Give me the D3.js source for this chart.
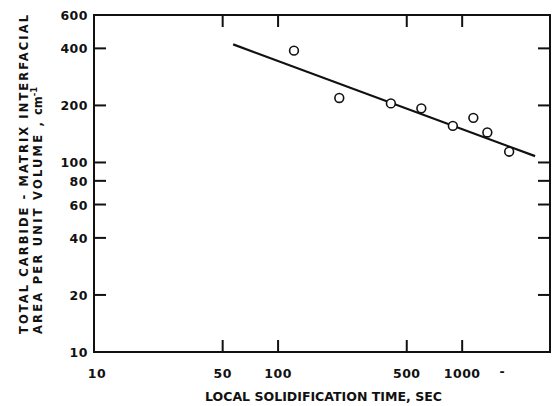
<!DOCTYPE html>
<html>
<head>
<meta charset="utf-8">
<script src="https://cdn.jsdelivr.net/npm/d3@7"></script>
<style>
  body { margin: 0; background: #fff; }
  svg text { font-family: "DejaVu Sans", "Liberation Sans", sans-serif; font-weight: bold; fill: #111; }
</style>
</head>
<body>
<div id="chart"></div>
<script>
// solidification time (sec) vs carbide-matrix interfacial area (cm^-1)
const times = [122, 215, 410, 600, 890, 1150, 1370, 1800];
const areas = [389, 219, 205, 193, 156, 172, 144, 114];

// fitted line ends
const fitTimes = [57, 2490];
const fitAreas = [420, 108];

const xTicks = [10, 50, 100, 500, 1000];
const xExtraLabel = { value: 1650, text: "-" };
const yTicks = [10, 20, 40, 60, 80, 100, 200, 400, 600];

const xTitle = "LOCAL SOLIDIFICATION TIME, SEC";
const yTitle1 = "TOTAL CARBIDE - MATRIX INTERFACIAL";
const yTitle2 = "AREA PER UNIT VOLUME ,";

const width = 553, height = 406;
const box = { left: 94, right: 550, top: 15, bottom: 352 };

const svg = d3.select("#chart").append("svg")
    .attr("width", width)
    .attr("height", height);

const x = d3.scaleLog().domain([10, 3000]).range([box.left, box.right]);
const y = d3.scaleLog().domain([10, 600]).range([box.bottom, box.top]);

// frame
svg.append("rect")
    .attr("x", box.left).attr("y", box.top)
    .attr("width", box.right - box.left).attr("height", box.bottom - box.top)
    .attr("fill", "none").attr("stroke", "#111").attr("stroke-width", 2);

// ticks pointing inward on all four sides
const tickLen = 12;
const innerX = xTicks.filter(d => d > 10);
const innerY = yTicks.filter(d => d > 10 && d < 600);

const tickG = svg.append("g");
innerX.forEach(d => {
    tickG.append("path").attr("d", `M${x(d)},${box.bottom}V${box.bottom - tickLen}`);
    tickG.append("path").attr("d", `M${x(d)},${box.top}V${box.top + tickLen}`);
});
innerY.forEach(d => {
    tickG.append("path").attr("d", `M${box.left},${y(d)}H${box.left + tickLen}`);
    tickG.append("path").attr("d", `M${box.right},${y(d)}H${box.right - tickLen}`);
});
tickG.selectAll("path").attr("stroke", "#111").attr("stroke-width", 2).attr("fill", "none");

// tick labels
svg.selectAll(".xlab").data(xTicks).enter().append("text")
    .attr("class", "xlab")
    .attr("x", d => x(d) + (d === 10 ? 3 : 0))
    .attr("y", 378)
    .attr("text-anchor", "middle")
    .attr("font-size", 12.5)
    .attr("letter-spacing", 0.5)
    .text(d => d);

svg.append("text")
    .attr("x", x(xExtraLabel.value))
    .attr("y", 376)
    .attr("text-anchor", "middle")
    .attr("font-size", 12.5)
    .text(xExtraLabel.text);

svg.selectAll(".ylab").data(yTicks).enter().append("text")
    .attr("class", "ylab")
    .attr("x", 88)
    .attr("y", d => y(d) + 5)
    .attr("text-anchor", "end")
    .attr("font-size", 12.5)
    .attr("letter-spacing", 0.5)
    .text(d => d);

// axis titles
svg.append("text")
    .attr("x", 205).attr("y", 401)
    .attr("font-size", 11.5)
    .attr("textLength", 237).attr("lengthAdjust", "spacingAndGlyphs")
    .text(xTitle);

const yt = svg.append("g").attr("transform", "translate(28,334) rotate(-90)");
yt.append("text")
    .attr("x", 0).attr("y", 0)
    .attr("font-size", 11.5)
    .attr("textLength", 319).attr("lengthAdjust", "spacing")
    .text(yTitle1);
yt.append("text")
    .attr("x", 0).attr("y", 14)
    .attr("font-size", 11.5)
    .attr("textLength", 212).attr("lengthAdjust", "spacing")
    .text(yTitle2);
const unit = yt.append("text")
    .attr("x", 219).attr("y", 14)
    .attr("font-size", 11.5)
    .attr("font-weight", "normal");
unit.append("tspan").text("cm");
unit.append("tspan").attr("dy", -5).attr("font-size", 8.5).attr("font-weight", "bold").text("-1");

// fit line
svg.append("line")
    .attr("x1", x(fitTimes[0])).attr("y1", y(fitAreas[0]))
    .attr("x2", x(fitTimes[1])).attr("y2", y(fitAreas[1]))
    .attr("stroke", "#111").attr("stroke-width", 2.2);

// data points
svg.selectAll(".pt").data(times).enter().append("circle")
    .attr("class", "pt")
    .attr("cx", d => x(d))
    .attr("cy", (d, i) => y(areas[i]))
    .attr("r", 4.4)
    .attr("fill", "#fff")
    .attr("stroke", "#111")
    .attr("stroke-width", 1.6);
</script>
</body>
</html>
